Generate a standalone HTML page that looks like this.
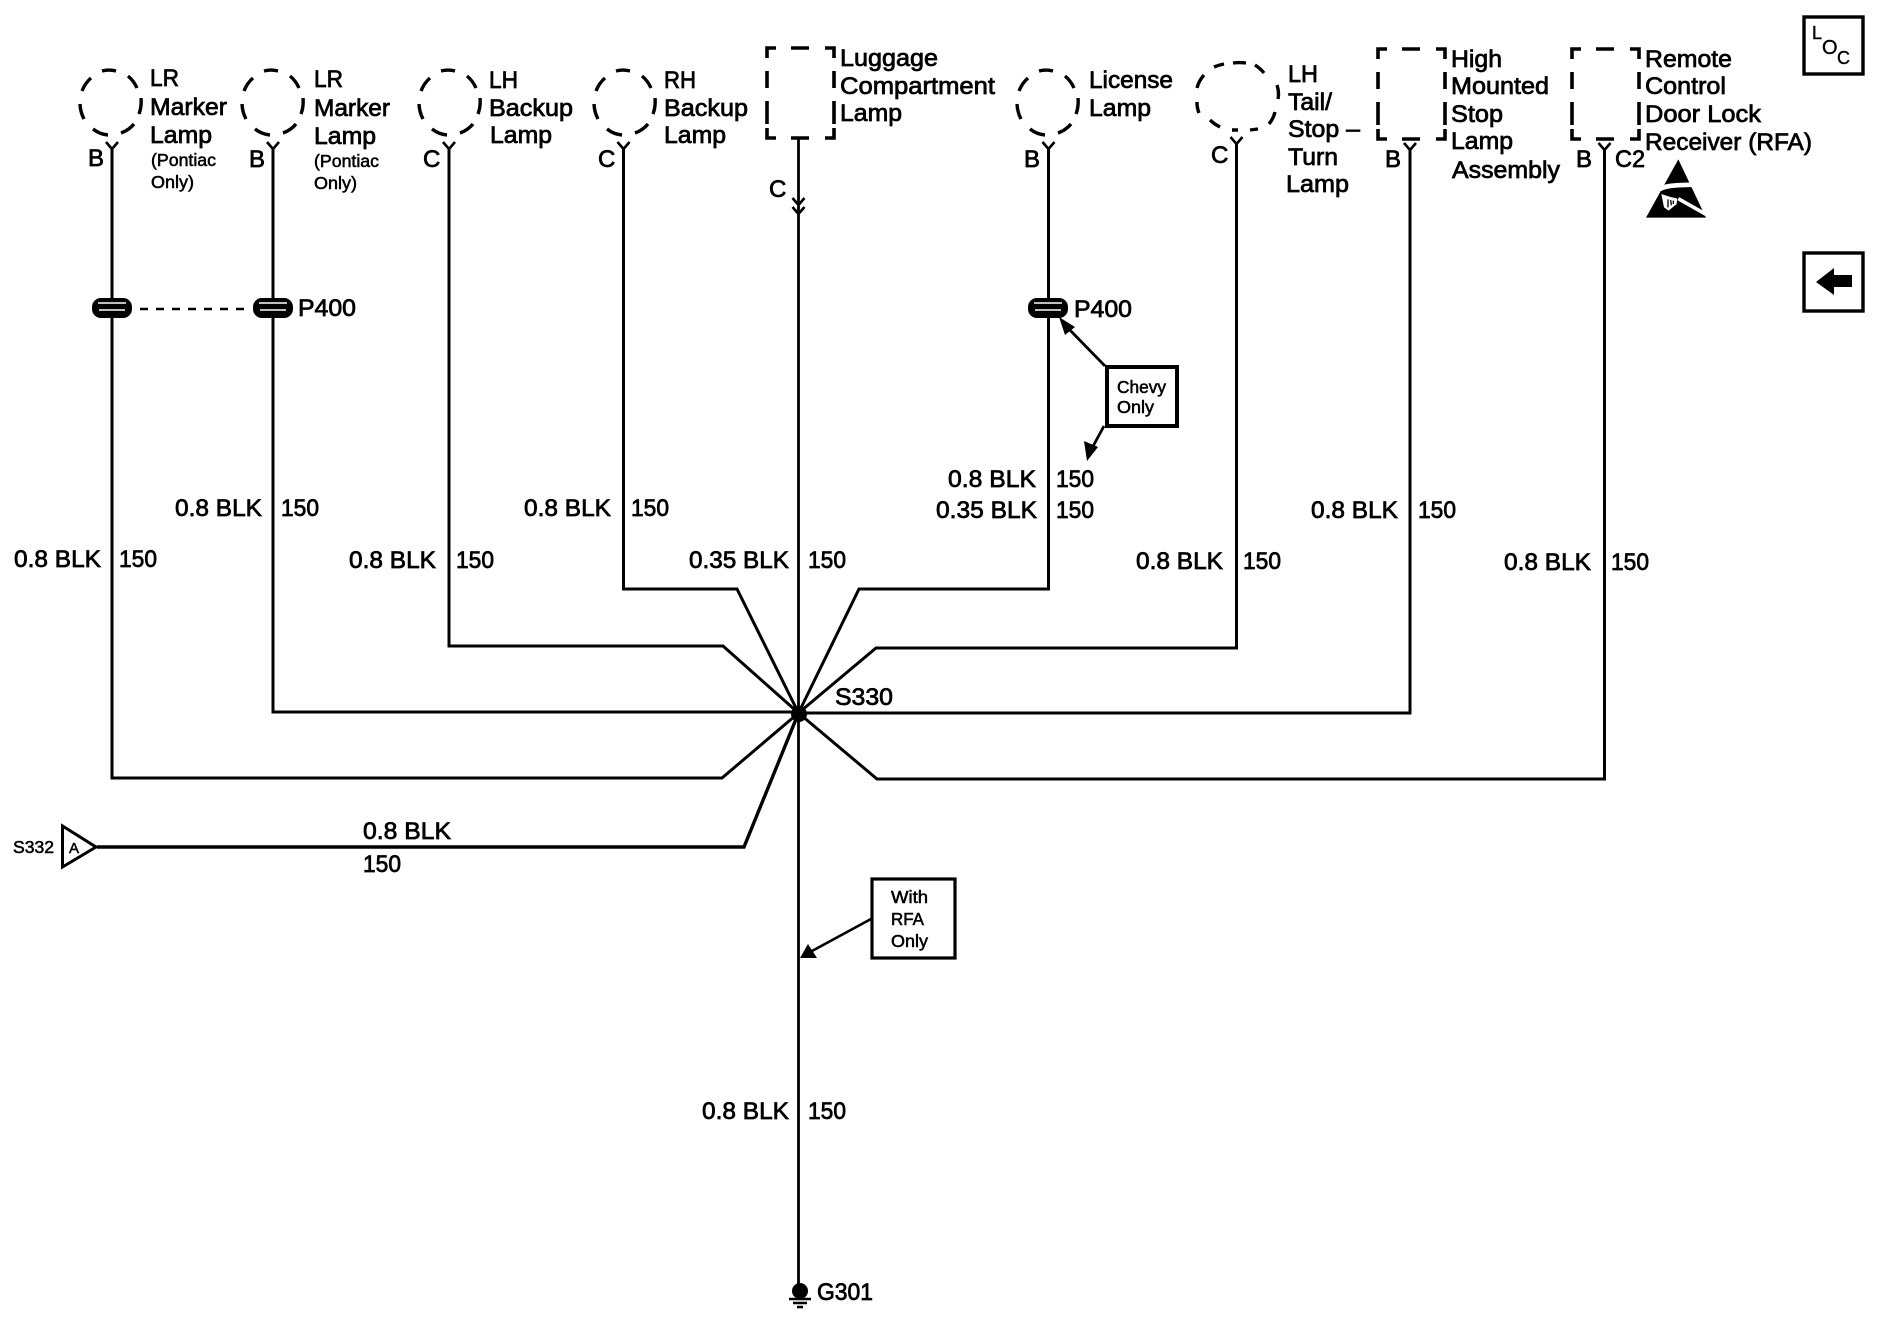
<!DOCTYPE html>
<html><head><meta charset="utf-8"><style>
html,body{margin:0;padding:0;background:#fff}
svg{display:block}
text{font-family:"Liberation Sans",Arial,sans-serif;font-size:24px;fill:#000;stroke:#000;stroke-width:.75px}
.s{font-size:17.5px;stroke-width:.55px}
.w{fill:none;stroke:#000;stroke-width:3;stroke-linejoin:miter}
</style></head><body>
<svg width="1892" height="1344" viewBox="0 0 1892 1344" xmlns="http://www.w3.org/2000/svg">
<defs>
<g id="circ" fill="none" stroke="#000" stroke-width="3.4"><path d="M-8,-32A30 33 0 0 1 6,-32M18,-27A30 33 0 0 1 27,-15M31,-5A30 33 0 0 1 29,11M24,21A30 33 0 0 1 11,30M-2,32A30 33 0 0 1 -17,26M-30,1A30 33 0 0 0 -26,16M-28,-12A30 33 0 0 1 -19,-25"/></g>
<g id="box" fill="none" stroke="#000" stroke-width="3.6"><path d="M0,10V0H9M24,0H42M58,0H67V10M0,23V40M67,23V40M0,53V76M67,53V76M0,80V90H9M24,90H42M58,90H67V80"/></g>
<g id="conn"><rect x="-20" y="-10" width="40" height="20" rx="9" ry="9" fill="#000"/><path d="M-14,-5H14M-13,2H13" stroke="#fff" stroke-width="1.6"/></g>
<path id="y" d="M-6,0L0,7L6,0" fill="none" stroke="#000" stroke-width="2.6"/>
</defs>
<rect width="1892" height="1344" fill="#fff"/>

<!-- wires -->
<path class="w" d="M112,148V778H722L798.5,713"/>
<path class="w" d="M273,148V712H798.5"/>
<path class="w" d="M449,148V646H723L798.5,713"/>
<path class="w" d="M623.5,148V589H737L798.5,713"/>
<path class="w" d="M1048.5,148V589H859L798.5,713"/>
<path class="w" d="M1236.5,143V648H876L798.5,713"/>
<path class="w" d="M1410,148V713H798.5"/>
<path class="w" d="M1604.5,148V779H877L798.5,713"/>
<path class="w" d="M97,847H744L798.5,713" style="stroke-width:3.4"/>
<path d="M798.5,138V1285" fill="none" stroke="#000" stroke-width="2.8"/>
<circle cx="799" cy="714" r="8" fill="#000"/>

<!-- circles / boxes -->
<use href="#circ" x="110" y="103"/>
<use href="#circ" x="272" y="103"/>
<use href="#circ" x="449" y="103"/>
<use href="#circ" x="624" y="103"/>
<use href="#circ" x="1047" y="103"/>
<g fill="none" stroke="#000" stroke-width="3.4"><path d="M1197,88A41 33 0 0 1 1204,75M1214,67A41 33 0 0 1 1224,64M1233,63A41 33 0 0 1 1246,63M1255,65A41 33 0 0 1 1264,73M1277,85A41 33 0 0 1 1278,99M1275,112A41 33 0 0 1 1269,124M1258,129L1250,130M1238,130H1232M1220,127A41 33 0 0 1 1210,120M1197,102A41 33 0 0 0 1199,113"/></g>
<use href="#box" x="767" y="48"/>
<use href="#box" x="1378" y="49"/>
<use href="#box" x="1572" y="49"/>

<!-- Y connector marks -->
<use href="#y" x="112" y="142"/>
<use href="#y" x="273" y="142"/>
<use href="#y" x="449" y="142"/>
<use href="#y" x="623.5" y="142"/>
<use href="#y" x="1048.5" y="142"/>
<use href="#y" x="1236.5" y="137"/>
<use href="#y" x="1410" y="143"/>
<use href="#y" x="1604.5" y="143"/>
<use href="#y" x="798.5" y="198"/>
<use href="#y" x="798.5" y="207"/>

<!-- inline connectors -->
<use href="#conn" x="112" y="308"/>
<use href="#conn" x="273" y="308"/>
<use href="#conn" x="1048" y="308"/>
<path d="M140,309H245" stroke="#000" stroke-width="2.4" stroke-dasharray="8 8" fill="none"/>

<!-- top labels -->
<text x="150" y="86" textLength="29" lengthAdjust="spacingAndGlyphs">LR</text>
<text x="150" y="115" textLength="77" lengthAdjust="spacingAndGlyphs">Marker</text>
<text x="150" y="143" textLength="62" lengthAdjust="spacingAndGlyphs">Lamp</text>
<text class="s" x="151" y="166" textLength="65" lengthAdjust="spacingAndGlyphs">(Pontiac</text>
<text class="s" x="151" y="188" textLength="43" lengthAdjust="spacingAndGlyphs">Only)</text>
<text x="314" y="87" textLength="29" lengthAdjust="spacingAndGlyphs">LR</text>
<text x="314" y="116" textLength="76" lengthAdjust="spacingAndGlyphs">Marker</text>
<text x="314" y="144" textLength="62" lengthAdjust="spacingAndGlyphs">Lamp</text>
<text class="s" x="314" y="167" textLength="65" lengthAdjust="spacingAndGlyphs">(Pontiac</text>
<text class="s" x="314" y="189" textLength="43" lengthAdjust="spacingAndGlyphs">Only)</text>
<text x="489" y="88" textLength="29" lengthAdjust="spacingAndGlyphs">LH</text>
<text x="489" y="116" textLength="84" lengthAdjust="spacingAndGlyphs">Backup</text>
<text x="490" y="143" textLength="62" lengthAdjust="spacingAndGlyphs">Lamp</text>
<text x="664" y="88" textLength="32" lengthAdjust="spacingAndGlyphs">RH</text>
<text x="664" y="116" textLength="84" lengthAdjust="spacingAndGlyphs">Backup</text>
<text x="664" y="143" textLength="62" lengthAdjust="spacingAndGlyphs">Lamp</text>
<text x="840" y="66" textLength="98" lengthAdjust="spacingAndGlyphs">Luggage</text>
<text x="840" y="94" textLength="155" lengthAdjust="spacingAndGlyphs">Compartment</text>
<text x="840" y="121" textLength="62" lengthAdjust="spacingAndGlyphs">Lamp</text>
<text x="1089" y="88" textLength="84" lengthAdjust="spacingAndGlyphs">License</text>
<text x="1089" y="116" textLength="62" lengthAdjust="spacingAndGlyphs">Lamp</text>
<text x="1288" y="82" textLength="30" lengthAdjust="spacingAndGlyphs">LH</text>
<text x="1288" y="110" textLength="44" lengthAdjust="spacingAndGlyphs">Tail/</text>
<text x="1288" y="137" textLength="72" lengthAdjust="spacingAndGlyphs">Stop –</text>
<text x="1288" y="165" textLength="50" lengthAdjust="spacingAndGlyphs">Turn</text>
<text x="1286" y="192" textLength="63" lengthAdjust="spacingAndGlyphs">Lamp</text>
<text x="1451" y="67" textLength="51" lengthAdjust="spacingAndGlyphs">High</text>
<text x="1451" y="94" textLength="98" lengthAdjust="spacingAndGlyphs">Mounted</text>
<text x="1451" y="122" textLength="52" lengthAdjust="spacingAndGlyphs">Stop</text>
<text x="1451" y="149" textLength="62" lengthAdjust="spacingAndGlyphs">Lamp</text>
<text x="1452" y="178" textLength="108" lengthAdjust="spacingAndGlyphs">Assembly</text>
<text x="1645" y="67" textLength="87" lengthAdjust="spacingAndGlyphs">Remote</text>
<text x="1645" y="94" textLength="81" lengthAdjust="spacingAndGlyphs">Control</text>
<text x="1645" y="122" textLength="116" lengthAdjust="spacingAndGlyphs">Door Lock</text>
<text x="1645" y="150" textLength="167" lengthAdjust="spacingAndGlyphs">Receiver (RFA)</text>

<!-- pin letters -->
<text x="88" y="166">B</text>
<text x="249" y="167">B</text>
<text x="423" y="167">C</text>
<text x="598" y="167">C</text>
<text x="769" y="197">C</text>
<text x="1024" y="167">B</text>
<text x="1211" y="163">C</text>
<text x="1385" y="167">B</text>
<text x="1576" y="167">B</text>
<text x="1615" y="167" textLength="30" lengthAdjust="spacingAndGlyphs">C2</text>
<text x="298" y="316" textLength="58" lengthAdjust="spacingAndGlyphs">P400</text>
<text x="1074" y="317" textLength="58" lengthAdjust="spacingAndGlyphs">P400</text>

<!-- wire labels -->
<text x="14" y="567" textLength="87" lengthAdjust="spacingAndGlyphs">0.8 BLK</text><text x="119" y="567" textLength="38" lengthAdjust="spacingAndGlyphs">150</text>
<text x="175" y="516" textLength="87" lengthAdjust="spacingAndGlyphs">0.8 BLK</text><text x="281" y="516" textLength="38" lengthAdjust="spacingAndGlyphs">150</text>
<text x="349" y="568" textLength="87" lengthAdjust="spacingAndGlyphs">0.8 BLK</text><text x="456" y="568" textLength="38" lengthAdjust="spacingAndGlyphs">150</text>
<text x="524" y="516" textLength="87" lengthAdjust="spacingAndGlyphs">0.8 BLK</text><text x="631" y="516" textLength="38" lengthAdjust="spacingAndGlyphs">150</text>
<text x="689" y="568" textLength="100" lengthAdjust="spacingAndGlyphs">0.35 BLK</text><text x="808" y="568" textLength="38" lengthAdjust="spacingAndGlyphs">150</text>
<text x="948" y="487" textLength="88" lengthAdjust="spacingAndGlyphs">0.8 BLK</text><text x="1056" y="487" textLength="38" lengthAdjust="spacingAndGlyphs">150</text>
<text x="936" y="518" textLength="101" lengthAdjust="spacingAndGlyphs">0.35 BLK</text><text x="1056" y="518" textLength="38" lengthAdjust="spacingAndGlyphs">150</text>
<text x="1136" y="569" textLength="87" lengthAdjust="spacingAndGlyphs">0.8 BLK</text><text x="1243" y="569" textLength="38" lengthAdjust="spacingAndGlyphs">150</text>
<text x="1311" y="518" textLength="87" lengthAdjust="spacingAndGlyphs">0.8 BLK</text><text x="1418" y="518" textLength="38" lengthAdjust="spacingAndGlyphs">150</text>
<text x="1504" y="570" textLength="87" lengthAdjust="spacingAndGlyphs">0.8 BLK</text><text x="1611" y="570" textLength="38" lengthAdjust="spacingAndGlyphs">150</text>
<text x="702" y="1119" textLength="87" lengthAdjust="spacingAndGlyphs">0.8 BLK</text><text x="808" y="1119" textLength="38" lengthAdjust="spacingAndGlyphs">150</text>
<text x="835" y="705" textLength="58" lengthAdjust="spacingAndGlyphs">S330</text>
<text x="363" y="839" textLength="88" lengthAdjust="spacingAndGlyphs">0.8 BLK</text>
<text x="363" y="872" textLength="38" lengthAdjust="spacingAndGlyphs">150</text>

<!-- S332 -->
<polygon points="62.5,826 62.5,867 96,847" fill="#fff" stroke="#000" stroke-width="3"/>
<text class="s" x="13" y="853" textLength="41" lengthAdjust="spacingAndGlyphs">S332</text>
<text x="69" y="853" style="font-size:15px;stroke-width:.5px">A</text>

<!-- With RFA Only -->
<rect x="872" y="879" width="83" height="79" fill="#fff" stroke="#000" stroke-width="3.2"/>
<text class="s" x="891" y="903" textLength="37" lengthAdjust="spacingAndGlyphs">With</text>
<text class="s" x="891" y="925" textLength="33" lengthAdjust="spacingAndGlyphs">RFA</text>
<text class="s" x="891" y="947" textLength="37" lengthAdjust="spacingAndGlyphs">Only</text>
<path d="M871,919L812,951" stroke="#000" stroke-width="2.6" fill="none"/>
<polygon points="800,958 817,958 808,944" fill="#000"/>

<!-- Chevy Only -->
<rect x="1107" y="367" width="70" height="59" fill="#fff" stroke="#000" stroke-width="4"/>
<text class="s" x="1117" y="393" textLength="49" lengthAdjust="spacingAndGlyphs">Chevy</text>
<text class="s" x="1117" y="413" textLength="37" lengthAdjust="spacingAndGlyphs">Only</text>
<path d="M1105,366L1064,324M1104,426L1091,450" stroke="#000" stroke-width="2.8" fill="none"/>
<polygon points="1059,317 1075,327 1065,335" fill="#000"/>
<polygon points="1087,461 1084,441 1098,447" fill="#000"/>

<!-- Ground -->
<circle cx="800" cy="1291" r="8" fill="#000"/>
<path d="M789,1299H811M793,1303H807M797,1307H803" stroke="#000" stroke-width="2.4"/>
<text x="817" y="1300" textLength="56" lengthAdjust="spacingAndGlyphs">G301</text>

<!-- LOC -->
<rect x="1804" y="17" width="59" height="57" fill="#fff" stroke="#000" stroke-width="3.4"/>
<text x="1812" y="39" style="font-size:18px;stroke-width:.4px">L</text>
<text x="1822" y="54" style="font-size:20px;stroke-width:.4px">O</text>
<text x="1837" y="64" style="font-size:18px;stroke-width:.4px">C</text>

<!-- Back arrow -->
<rect x="1804" y="253" width="59" height="58" fill="#fff" stroke="#000" stroke-width="3.4"/>
<polygon points="1816,282 1834,268 1834,275 1852,275 1852,287 1834,287 1834,295" fill="#000"/>

<!-- ESD -->
<g transform="translate(1640,150) scale(.3333)">
<polygon points="115,28 18,203 198,203" fill="#000"/>
<path d="M50,122Q70,110 90,108Q120,104 175,104" fill="none" stroke="#fff" stroke-width="14"/>
<path d="M115,146L205,197" stroke="#fff" stroke-width="11" fill="none"/>
<path d="M64,132L72,172L86,182L110,162L112,146L88,140Z" fill="#fff"/>
<path d="M84,148L84,172M92,150L94,166M100,152L100,162" stroke="#000" stroke-width="4" fill="none"/>
</g>
</svg>
</body></html>
